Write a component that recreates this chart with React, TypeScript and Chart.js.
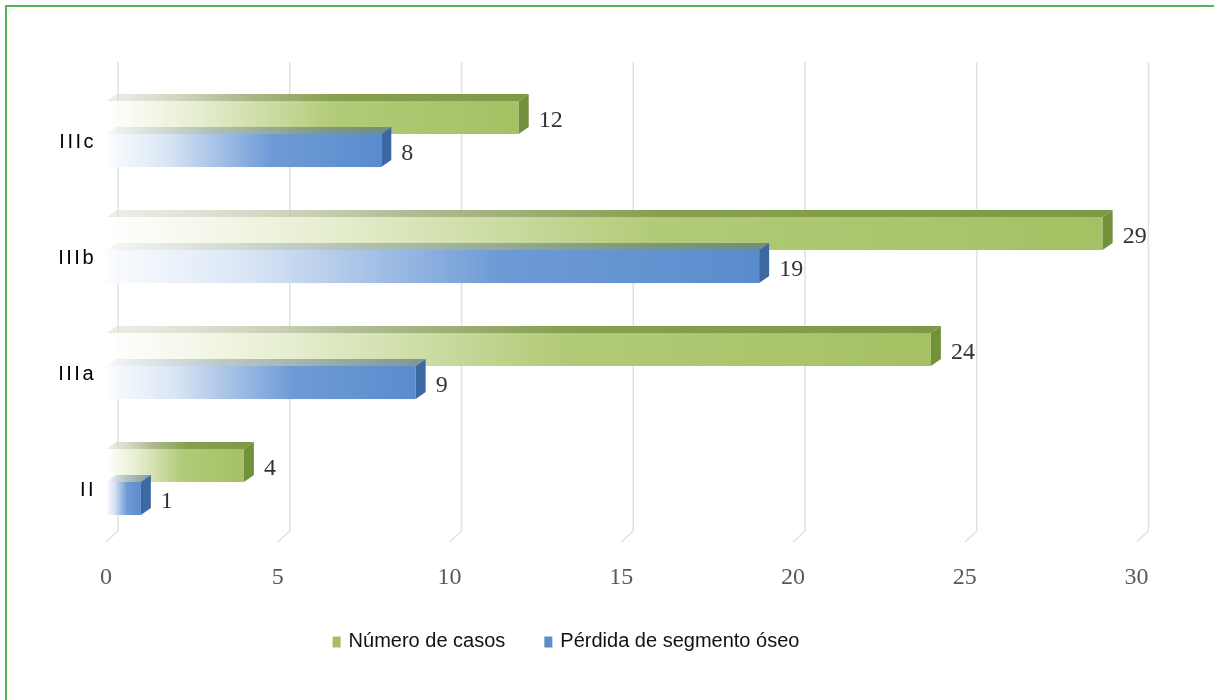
import React, { useEffect, useRef } from 'react';
import { Chart, registerables } from 'chart.js';

Chart.register(...registerables);

const categories = ['IIIc', 'IIIb', 'IIIa', 'II'];
const numeroDeCasos = [12, 29, 24, 4];
const perdidaSegmento = [8, 19, 9, 1];
const xTickValues = [0, 5, 10, 15, 20, 25, 30];
const seriesNames = ['Número de casos', 'Pérdida de segmento óseo'];

const W = 1214;
const H = 700;
const SHIFT_X = 11.5; // front face shift to the left
const SHIFT_Y = 8; // front face shift up relative to element
const DEPTH_X = 10;
const DEPTH_Y = 7;

const STYLES = [
  {
    front: [
      [0, 'rgba(255,255,255,0.9)'],
      [0.22, '#e6eed0'],
      [0.55, '#b2cb78'],
      [1, '#a5c163'],
    ],
    top: [
      [0, 'rgba(225,228,215,0.6)'],
      [0.3, '#b0bb94'],
      [0.55, '#86a050'],
      [1, '#7d9947'],
    ],
    side: '#73903b',
    legend: '#a5c063',
  },
  {
    front: [
      [0, 'rgba(250,252,255,0.9)'],
      [0.22, '#d9e5f5'],
      [0.6, '#6e9bd6'],
      [1, '#5a8ccd'],
    ],
    top: [
      [0, 'rgba(60,90,130,0.05)'],
      [0.35, 'rgba(60,90,130,0.28)'],
      [0.7, 'rgba(60,90,130,0.42)'],
      [1, 'rgba(60,95,140,0.55)'],
    ],
    side: '#3c69a2',
    legend: '#5b8ccc',
  },
];

function grad(ctx: CanvasRenderingContext2D, x1: number, x2: number, stops: any[]) {
  const g = ctx.createLinearGradient(x1, 0, Math.max(x2, x1 + 1), 0);
  stops.forEach(([o, c]) => g.addColorStop(o, c));
  return g;
}

const bar3dPlugin = {
  id: 'bar3d',
  beforeDatasetsDraw(chart: any) {
    const ctx: CanvasRenderingContext2D = chart.ctx;
    const xs = chart.scales.x;
    const area = chart.chartArea;
    ctx.save();
    ctx.strokeStyle = '#e1e1e1';
    ctx.lineWidth = 1.5;
    xTickValues.forEach((v) => {
      const px = xs.getPixelForValue(v);
      ctx.beginPath();
      ctx.moveTo(px, area.top - 22);
      ctx.lineTo(px, area.bottom - 17);
      ctx.lineTo(px - 12, area.bottom - 6);
      ctx.stroke();
    });
    ctx.restore();
  },
  afterDatasetsDraw(chart: any) {
    const ctx: CanvasRenderingContext2D = chart.ctx;
    ctx.save();
    const labelsToDraw: any[] = [];
    chart.data.datasets.forEach((ds: any, di: number) => {
      const meta = chart.getDatasetMeta(di);
      const st = STYLES[di];
      meta.data.forEach((el: any, i: number) => {
        const { x, y, base, height } = el.getProps(['x', 'y', 'base', 'height'], true);
        const fx1 = base - SHIFT_X;
        const fx2 = x - SHIFT_X;
        const fy1 = y - height / 2 - SHIFT_Y;
        const fy2 = fy1 + height;
        // front face
        ctx.fillStyle = grad(ctx, fx1, fx2, st.front);
        ctx.fillRect(fx1, fy1, fx2 - fx1, fy2 - fy1);
        // top face
        ctx.fillStyle = grad(ctx, fx1, fx2 + DEPTH_X, st.top);
        ctx.beginPath();
        ctx.moveTo(fx1, fy1);
        ctx.lineTo(fx2, fy1);
        ctx.lineTo(fx2 + DEPTH_X, fy1 - DEPTH_Y);
        ctx.lineTo(fx1 + DEPTH_X, fy1 - DEPTH_Y);
        ctx.closePath();
        ctx.fill();
        // side face
        ctx.fillStyle = st.side;
        ctx.beginPath();
        ctx.moveTo(fx2, fy1);
        ctx.lineTo(fx2 + DEPTH_X, fy1 - DEPTH_Y);
        ctx.lineTo(fx2 + DEPTH_X, fy2 - DEPTH_Y);
        ctx.lineTo(fx2, fy2);
        ctx.closePath();
        ctx.fill();
        labelsToDraw.push({ x: fx2 + DEPTH_X + 10, y: (fy1 + fy2) / 2 + 3.5, text: String(ds.data[i]) });
      });
    });
    ctx.fillStyle = '#333333';
    ctx.font = '24px "Liberation Serif"';
    ctx.textAlign = 'left';
    ctx.textBaseline = 'middle';
    labelsToDraw.forEach((l) => ctx.fillText(l.text, l.x, l.y));
    ctx.restore();
  },
  afterDraw(chart: any) {
    const ctx: CanvasRenderingContext2D = chart.ctx;
    const ys = chart.scales.y;
    ctx.save();
    // category labels
    ctx.fillStyle = '#000';
    ctx.font = '20px "Liberation Sans"';
    (ctx as any).letterSpacing = '2.5px';
    ctx.textAlign = 'right';
    ctx.textBaseline = 'middle';
    categories.forEach((c, i) => {
      ctx.fillText(c, chart.chartArea.left - 22, ys.getPixelForTick(i));
    });
    (ctx as any).letterSpacing = '0px';
    // legend
    ctx.font = '20px "Liberation Sans"';
    ctx.textAlign = 'left';
    const boxW = 8;
    const boxH = 11;
    const gapBox = 8;
    const gapItems = 39;
    const widths = seriesNames.map((n) => ctx.measureText(n).width);
    const total = widths.reduce((a, w) => a + boxW + gapBox + w, 0) + gapItems;
    let lx = 566 - total / 2;
    const ly = 641;
    seriesNames.forEach((n, i) => {
      ctx.fillStyle = STYLES[i].legend;
      ctx.fillRect(lx, ly - boxH / 2 + 1, boxW, boxH);
      ctx.fillStyle = '#111';
      ctx.fillText(n, lx + boxW + gapBox, ly);
      lx += boxW + gapBox + widths[i] + gapItems;
    });
    ctx.restore();
  },
};

export default function App() {
  const canvasRef = useRef<HTMLCanvasElement | null>(null);

  useEffect(() => {
    document.body.style.margin = '0';
    document.body.style.background = '#ffffff';
    const canvas = canvasRef.current;
    if (!canvas) return;
    const chart = new Chart(canvas, {
      type: 'bar',
      data: {
        labels: categories,
        datasets: [
          {
            label: seriesNames[0],
            data: numeroDeCasos,
            backgroundColor: 'rgba(0,0,0,0)',
            borderWidth: 0,
            categoryPercentage: 0.57,
            barPercentage: 1,
          },
          {
            label: seriesNames[1],
            data: perdidaSegmento,
            backgroundColor: 'rgba(0,0,0,0)',
            borderWidth: 0,
            categoryPercentage: 0.57,
            barPercentage: 1,
          },
        ],
      },
      options: {
        indexAxis: 'y',
        responsive: false,
        maintainAspectRatio: false,
        animation: false,
        layout: { padding: { left: 0, right: W - 1148.5, top: 84, bottom: 0 } },
        plugins: {
          legend: { display: false },
          tooltip: { enabled: false },
        },
        scales: {
          x: {
            min: 0,
            max: 30,
            ticks: {
              stepSize: 5,
              labelOffset: -12,
              padding: 15,
              color: '#595959',
              font: { family: '"Liberation Serif"', size: 24 },
            },
            grid: { display: false, drawTicks: false },
            border: { display: false },
            afterFit: (s: any) => {
              s.height = H - 548;
            },
          },
          y: {
            ticks: { display: false },
            grid: { display: false, drawTicks: false },
            border: { display: false },
            afterFit: (s: any) => {
              s.width = 118;
            },
          },
        },
      },
      plugins: [bar3dPlugin],
    } as any);
    return () => chart.destroy();
  }, []);

  return (
    <div style={{ position: 'relative', width: W, height: H, overflow: 'hidden', background: '#fff' }}>
      <canvas ref={canvasRef} width={W} height={H} style={{ position: 'absolute', left: 0, top: 0, width: W, height: H }} />
      <div
        style={{
          position: 'absolute',
          left: 5,
          top: 5,
          width: W,
          height: H,
          border: '2px solid #52b452',
          pointerEvents: 'none',
        }}
      />
    </div>
  );
}
